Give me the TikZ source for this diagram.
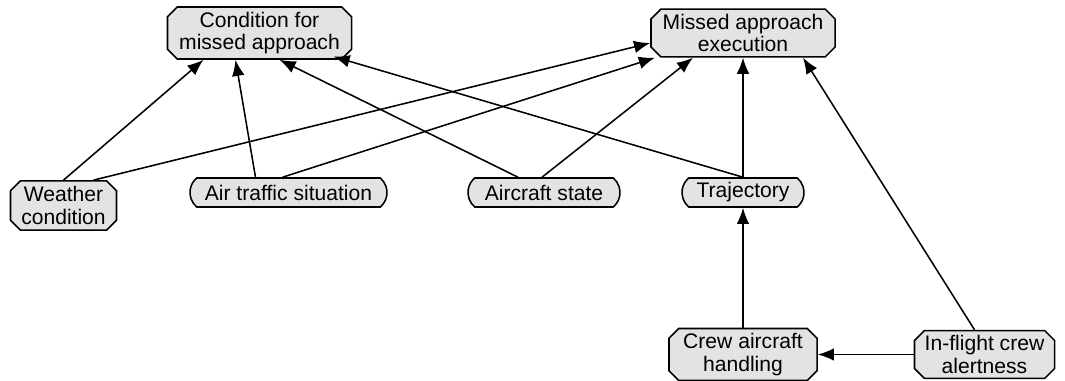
\documentclass[tikz,border=0pt]{standalone}
\usepackage{fontspec}
\setmainfont{Liberation Sans}
\usetikzlibrary{shapes.misc,arrows.meta}
\begin{document}
\begin{tikzpicture}[x=0.025cm,y=-0.025cm,
	factor/.style={draw,line width=1.1pt,fill=gray!22,align=center,inner sep=0pt,
		font=\fontsize{15}{16}\selectfont},
	twoline/.style={factor,chamfered rectangle,chamfered rectangle xsep=3.5pt,chamfered rectangle ysep=3.5pt},
	oneline/.style={factor,rounded rectangle,rounded rectangle arc length=100,minimum height=0.725cm},
	link/.style={line width=1.1pt,-{Latex[length=11.5pt,width=9pt]}}]
	\useasboundingbox (0,0) rectangle (1065,381);
	\node[twoline,minimum width=4.6cm,minimum height=1.1cm] (cond) at (259.5,33) {Condition for\\missed approach};
	\node[twoline,minimum width=4.6cm,minimum height=1.1cm] (exec) at (743,33) {Missed approach\\execution};
	\node[twoline,minimum width=2.65cm,minimum height=1.23cm] (wea) at (63.5,205.5) {Weather\\condition};
	\node[oneline,minimum width=4.925cm] (atc) at (288.5,192.5) {Air traffic situation};
	\node[oneline,minimum width=3.8cm] (acs) at (544,192.5) {Aircraft state};
	\node[oneline,minimum width=3.05cm] (traj) at (743,192.5) {Trajectory};
	\node[twoline,minimum width=3.7cm,minimum height=1.13cm] (crew) at (743,354.5) {Crew aircraft\\handling};
	\node[twoline,minimum width=3.5cm,minimum height=1.13cm] (alert) at (984.5,354.5) {In-flight crew\\alertness};
	\draw[link] (wea.north) -- ([xshift=-1.4cm]cond.south);
	\draw[link] ([xshift=0.75cm]wea.north) -- ([yshift=-0.25cm]exec.west);
	\draw[link] ([xshift=-0.825cm]atc.north) -- ([xshift=-0.6cm]cond.south);
	\draw[link] ([xshift=-0.15cm]atc.north) -- ([xshift=-2.2cm]exec.south);
	\draw[link] ([xshift=-0.65cm]acs.north) -- ([xshift=0.5cm]cond.south);
	\draw[link] ([xshift=-0.05cm]acs.north) -- ([xshift=-1.25cm]exec.south);
	\draw[link] (traj.north) -- ([xshift=1.85cm,yshift=0.08cm]cond.south);
	\draw[link] (traj.north) -- (exec.south);
	\draw[link] (crew.north) -- (traj.south);
	\draw[link] (alert.west) -- (crew.east);
	\draw[link] ([xshift=-0.25cm]alert.north) -- ([xshift=1.5cm]exec.south);
\end{tikzpicture}
\end{document}
